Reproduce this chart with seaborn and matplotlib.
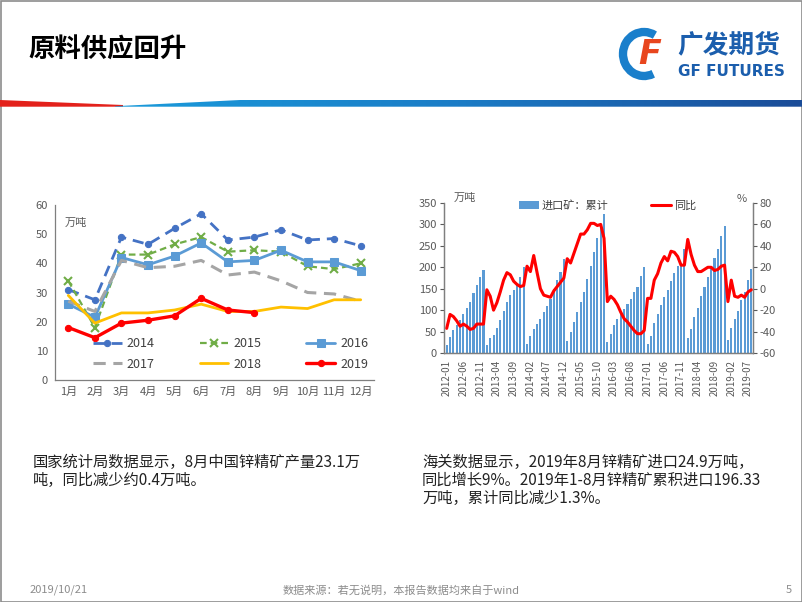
import numpy as np
import pandas as pd
import matplotlib
matplotlib.use('Agg')
import matplotlib.pyplot as plt
import seaborn as sns
from matplotlib.patches import Polygon, Rectangle, Arc
from matplotlib.colors import LinearSegmentedColormap

# ─── data: left chart (monthly zinc concentrate output, 万吨) ───────────
month_labels = [f'{m}月' for m in range(1, 13)]
prod_2014 = [31, 27.5, 49, 46.5, 52, 57, 48, 49, 51.5, 48, 48.5, 46]
prod_2015 = [34, 18, 43, 43, 46.5, 49, 44, 44.5, 44, 39, 38, 40]
prod_2016 = [26, 21.5, 42, 39.5, 42.5, 47, 40.5, 41, 44.5, 40.5, 40.5, 37.5]
prod_2017 = [27, 23.5, 41, 38.5, 39, 41, 36, 37, 34, 30, 29.5, 27]
prod_2018 = [29, 19.5, 23, 23, 24, 26, 23.5, 23.5, 25, 24.5, 27.5, 27.5]
prod_2019 = [18, 14.5, 19.5, 20.5, 22, 28, 24, 23.1]

# ─── data: right chart (cumulative imports 万吨, yoy %) ────────────────
import_cum = [
    18, 37, 53, 65, 78, 92, 104, 120, 140, 158, 177, 194,      # 2012
    18, 35, 43, 58, 77, 98, 120, 135, 148, 160, 178, 200,      # 2013
    22, 40, 55, 68, 80, 95, 110, 125, 150, 170, 188, 220,      # 2014
    28, 48, 73, 96, 118, 143, 173, 202, 236, 268, 300, 325,    # 2015
    25, 45, 65, 80, 92, 103, 115, 125, 142, 155, 180, 200,     # 2016
    22, 40, 70, 90, 112, 130, 147, 168, 187, 203, 210, 243,    # 2017
    35, 55, 85, 105, 132, 155, 177, 200, 222, 243, 272, 297,   # 2018
    30, 58, 80, 97, 123, 143, 171, 196.33,                     # 2019
]
import_yoy = [
    -37, -24, -26, -30, -35, -33, -35, -38, -37, -33, -33, -33,
    -1, -7, -20, -13, -3, 8, 15, 13, 7, 4, 2, 3,
    21, 16, 31, 15, 0, -6, -7, -8, -2, 2, 6, 10,
    28, 24, 33, 42, 51, 51, 55, 61, 61, 59, 60, 47,
    -12, -7, -10, -15, -22, -28, -31, -35, -39, -42, -42, -39,
    -9, -9, 8, 14, 24, 30, 26, 35, 34, 30, 22, 22,
    46, 32, 22, 16, 16, 18, 20, 20, 17, 18, 21, 22,
    -12, 8, -7, -8, -6, -8, -3, -1,
]
period_labels = [f'{y}-{m:02d}' for y in range(2012, 2020) for m in range(1, 13)][:len(import_cum)]

title = '原料供应回升'
text_left = ['国家统计局数据显示，8月中国锌精矿产量23.1万', '吨，同比减少约0.4万吨。']
text_right = ['海关数据显示，2019年8月锌精矿进口24.9万吨，',
              '同比增长9%。2019年1-8月锌精矿累积进口196.33',
              '万吨，累计同比减少1.3%。']

# ─── style ──────────────────────────────────────────────────────────────
sns.set_style('white')
plt.rcParams['font.family'] = ['Noto Sans CJK SC', 'DejaVu Sans']
plt.rcParams['axes.unicode_minus'] = False
tick_col = '#595959'

fig = plt.figure(figsize=(8.02, 6.02), dpi=100)

# ─── slide background / decorations in pixel coords ────────────────────
bg = fig.add_axes([0, 0, 1, 1], zorder=0)
bg.set_xlim(0, 802)
bg.set_ylim(602, 0)
bg.axis('off')
bg.add_patch(Rectangle((0.5, 0.5), 801, 601, fill=False, ec='#8C8C8C', lw=1.2))
bg.text(28, 50, title, fontsize=19, fontweight='bold', va='center', ha='left', color='black')

# gradient band
red_poly = Polygon([(0, 100), (123, 105), (123, 106.7), (0, 106.7)], closed=True,
                   fc='#E3211B', ec='none')
bg.add_patch(red_poly)
blue_cmap = LinearSegmentedColormap.from_list('band', ['#1A9BDB', '#1A7CC6', '#1B4C98'])
grad = bg.imshow(np.linspace(0, 1, 256)[None, :], extent=(115, 802, 106.7, 100),
                 aspect='auto', cmap=blue_cmap, zorder=1)
blue_poly = Polygon([(115, 106.2), (240, 100), (802, 100), (802, 106.7), (115, 106.7)],
                    closed=True, fc='none', ec='none')
bg.add_patch(blue_poly)
grad.set_clip_path(blue_poly)
bg.set_xlim(0, 802)
bg.set_ylim(602, 0)

# logo
bg.add_patch(Arc((644, 54), 42, 44, theta1=65, theta2=300, lw=6, color='#1A7FCB'))
bg.text(650, 55, 'F', fontsize=24, fontweight='bold', fontstyle='italic',
        color='#E8461E', ha='center', va='center', family='DejaVu Sans')
bg.text(677, 45, '广发期货', fontsize=18.5, fontweight='bold', color='#1B5EAD',
        ha='left', va='center')
bg.text(678, 71, 'GF FUTURES', fontsize=11, fontweight='bold', color='#1B5EAD',
        ha='left', va='center', family='DejaVu Sans')

# text blocks
for i, line in enumerate(text_left):
    bg.text(33, 462 + i * 18, line, fontsize=11, color='#222222', va='center', ha='left')
for i, line in enumerate(text_right):
    bg.text(422, 462 + i * 18, line, fontsize=11, color='#222222', va='center', ha='left')

# footer
bg.text(30, 590, '2019/10/21', fontsize=8, color='#8C8C8C', va='center', ha='left')
bg.text(401, 590, '数据来源：若无说明，本报告数据均来自于wind', fontsize=8,
        color='#8C8C8C', va='center', ha='center')
bg.text(792, 590, '5', fontsize=8, color='#8C8C8C', va='center', ha='right')

# ─── left chart ─────────────────────────────────────────────────────────
ax1 = fig.add_axes([55 / 802, 1 - 380 / 602, 319 / 802, 175 / 602], zorder=2)
series = [
    ('2014', prod_2014, dict(color='#4472C4', linestyle=(0, (4, 2.5)), marker='o', ms=4.5, lw=2)),
    ('2015', prod_2015, dict(color='#70AD47', linestyle=(0, (3, 1.8)), marker='x', ms=5.5, mew=1.5, lw=1.6)),
    ('2016', prod_2016, dict(color='#5B9BD5', linestyle='-', marker='s', ms=5.5, lw=2)),
    ('2017', prod_2017, dict(color='#A5A5A5', linestyle=(0, (4, 2.5)), lw=2.2)),
    ('2018', prod_2018, dict(color='#FFC000', linestyle='-', lw=2)),
    ('2019', prod_2019, dict(color='#FF0000', linestyle='-', marker='o', ms=4.5, lw=2.4)),
]
for name, vals, kw in series:
    kw = dict(kw)
    if 'marker' in kw:
        kw['mec'] = kw['color']
        kw['mfc'] = kw['color']
    sns.lineplot(x=np.arange(len(vals)), y=vals, ax=ax1, label=name, **kw)

ax1.set_xlim(-0.5, 11.5)
ax1.set_ylim(0, 60)
ax1.set_xticks(range(12))
ax1.set_xticklabels(month_labels)
ax1.set_yticks(range(0, 61, 10))
ax1.tick_params(axis='both', labelsize=8, colors=tick_col, length=3, width=0.8, pad=2)
for s in ['top', 'right']:
    ax1.spines[s].set_visible(False)
for s in ['left', 'bottom']:
    ax1.spines[s].set_color('#7F7F7F')
    ax1.spines[s].set_linewidth(0.9)
ax1.set_xlabel('')
ax1.set_ylabel('')
ax1.text(0.031, 0.897, '万吨', transform=ax1.transAxes, fontsize=8, color=tick_col,
         va='center', ha='left')
h, l = ax1.get_legend_handles_labels()
order = [0, 3, 1, 4, 2, 5]
ax1.legend([h[i] for i in order], [l[i] for i in order], ncol=3, loc='center',
           bbox_to_anchor=(0.55, 0.15), frameon=False, fontsize=9, handlelength=2.3,
           columnspacing=3.6, handletextpad=0.4, labelspacing=0.6,
           labelcolor='#404040')

# ─── right chart ────────────────────────────────────────────────────────
ax2 = fig.add_axes([444 / 802, 1 - 353 / 602, 308.7 / 802, 150 / 602], zorder=2)
df_imp = pd.DataFrame({'idx': np.arange(len(import_cum)), 'cum': import_cum, 'yoy': import_yoy})
sns.barplot(data=df_imp, x='idx', y='cum', ax=ax2, native_scale=True, color='#5B9BD5',
            saturation=1, width=0.62, errorbar=None, label='进口矿：累计', zorder=2,
            edgecolor='none', linewidth=0)
ax2.set_xlim(-0.8, 91.4)
ax2.set_ylim(0, 350)
ax2.set_yticks(range(0, 351, 50))
tick_pos = list(range(0, len(import_cum), 5))
ax2.set_xticks(tick_pos)
ax2.set_xticklabels([period_labels[i] for i in tick_pos], rotation=90, fontsize=7)
ax2.tick_params(axis='both', labelsize=8, colors=tick_col, length=3, width=0.8, pad=2)
ax2.tick_params(axis='x', labelsize=7)
ax2.set_xlabel('')
ax2.set_ylabel('')

ax3 = ax2.twinx()
sns.lineplot(data=df_imp, x='idx', y='yoy', ax=ax3, color='#FF0000', lw=2.2, label='同比')
ax3.set_ylim(-60, 80)
ax3.set_yticks(range(-60, 81, 20))
ax3.tick_params(axis='y', labelsize=8, colors=tick_col, length=3, width=0.8, pad=2)
ax3.set_ylabel('')
ax3.set_xlabel('')
ax3.set_xlim(-0.8, 91.4)
for a in (ax2, ax3):
    a.spines['top'].set_visible(False)
    for s in ['left', 'right', 'bottom']:
        a.spines[s].set_color('#7F7F7F')
        a.spines[s].set_linewidth(0.9)
ax2.text(0.03, 1.035, '万吨', transform=ax2.transAxes, fontsize=8, color=tick_col,
         va='center', ha='left')
ax2.text(0.965, 1.03, '%', transform=ax2.transAxes, fontsize=8, color=tick_col,
         va='center', ha='center')

hb, lb = ax2.get_legend_handles_labels()
hl, ll = ax3.get_legend_handles_labels()
if ax2.get_legend():
    ax2.get_legend().remove()
if ax3.get_legend():
    ax3.get_legend().remove()
ax3.legend(hb + hl, lb + ll, ncol=2, loc='center', bbox_to_anchor=(0.53, 0.985),
           frameon=False, fontsize=8, handlelength=1.8, columnspacing=3.8,
           handletextpad=0.3, labelcolor='#404040')

fig.savefig('out.png', dpi=100)
